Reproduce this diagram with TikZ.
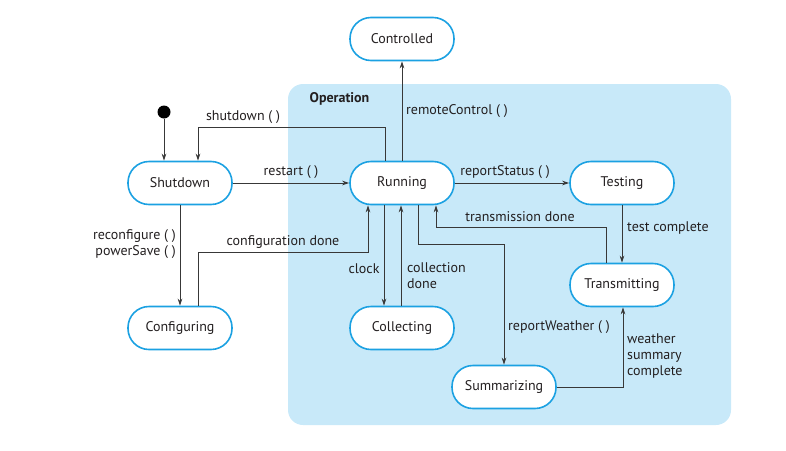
\documentclass[tikz,border=0pt]{standalone}
\usepackage{fontspec}
\setmainfont{PT Sans}
\usetikzlibrary{arrows.meta}
\definecolor{opfill}{HTML}{C8E9F9}
\definecolor{stborder}{HTML}{1BA1E2}
\definecolor{ln}{HTML}{383838}
\definecolor{txt}{HTML}{231F20}
\tikzset{
  state/.style={draw=stborder, line width=1.6pt, fill=white, rounded corners=21pt,
    minimum width=104pt, minimum height=43pt, inner sep=0pt, text=txt,
    font=\fontsize{14}{16}\selectfont},
  arr/.style={draw=ln, line width=0.9pt, -{Stealth[length=7pt,width=4.5pt]}},
  lbl/.style={font=\fontsize{14}{16}\selectfont, text=txt, inner sep=0pt}
}
\begin{document}
\begin{tikzpicture}[x=1pt,y=-1pt]
\useasboundingbox (0,0) rectangle (786,450);
\fill[opfill, rounded corners=15pt] (288,84) rectangle (731,425);
\node[lbl, font=\fontsize{14}{16}\selectfont\bfseries] (oplbl) at (339.5,99) {Operation};

\node[state] (Controlled) at (402,39) {Controlled};
\node[state] (Shutdown) at (180,183) {Shutdown};
\node[state] (Running) at (402,183) {Running};
\node[state] (Testing) at (622,183) {Testing};
\node[state] (Transmitting) at (622,285) {Transmitting};
\node[state] (Configuring) at (180,328) {Configuring};
\node[state] (Collecting) at (402,328) {Collecting};
\node[state] (Summarizing) at (504,387) {Summarizing};
\node[circle, fill=black, minimum size=13pt, inner sep=0pt] (init) at (164,112) {};

\coordinate (c1) at (385,127);
\coordinate (c2) at (198,127);
\coordinate (t1) at (606,227);
\coordinate (t2) at (436,227);
\coordinate (w1) at (418,244);
\coordinate (w2) at (504,244);
\coordinate (s1) at (623,387);
\coordinate (k1) at (384,0);
\coordinate (k2) at (401,0);
\coordinate (g1) at (198,252);
\coordinate (g2) at (368,252);

\draw[arr] (init) -- (init |- Shutdown.north);
\draw[arr] (c1 |- Running.north) -- (c1) -- (c2) -- (c2 |- Shutdown.north);
\draw[arr] (Shutdown) -- (Running);
\draw[arr] (Running) -- (Controlled);
\draw[arr] (Running) -- (Testing);
\draw[arr] (Testing) -- (Transmitting);
\draw[arr] (t1 |- Transmitting.north) -- (t1) -- (t2) -- (t2 |- Running.south);
\draw[arr] (w1 |- Running.south) -- (w1) -- (w2) -- (w2 |- Summarizing.north);
\draw[arr] (Summarizing.east) -- (s1) -- (s1 |- Transmitting.south);
\draw[arr] (k1 |- Running.south) -- (k1 |- Collecting.north);
\draw[arr] (k2 |- Collecting.north) -- (k2 |- Running.south);
\draw[arr] (Shutdown) -- (Configuring);
\draw[arr] (g1 |- Configuring.north) -- (g1) -- (g2) -- (g2 |- Running.south);

\node[lbl] (l1) at (243,117) {shutdown ( )};
\node[lbl] (l2) at (291,172) {restart ( )};
\node[lbl, anchor=west] (l3) at (406,111) {remoteControl ( )};
\node[lbl] (l4) at (505,172) {reportStatus ( )};
\node[lbl, anchor=west] (l5) at (627,228) {test complete};
\node[lbl] (l6) at (520,217) {transmission done};
\node[lbl, anchor=west] (l7) at (508,327) {reportWeather ( )};
\node[lbl, anchor=west, align=left] (l8) at (627,356) {weather\\summary\\complete};
\node[lbl] (l9) at (364,269) {clock};
\node[lbl, anchor=west, align=left] (l10) at (407,276) {collection\\done};
\node[lbl, anchor=east, align=right] (l11) at (176,244) {reconfigure ( )\\powerSave ( )};
\node[lbl] (l12) at (283,242) {configuration done};
\end{tikzpicture}
\end{document}
